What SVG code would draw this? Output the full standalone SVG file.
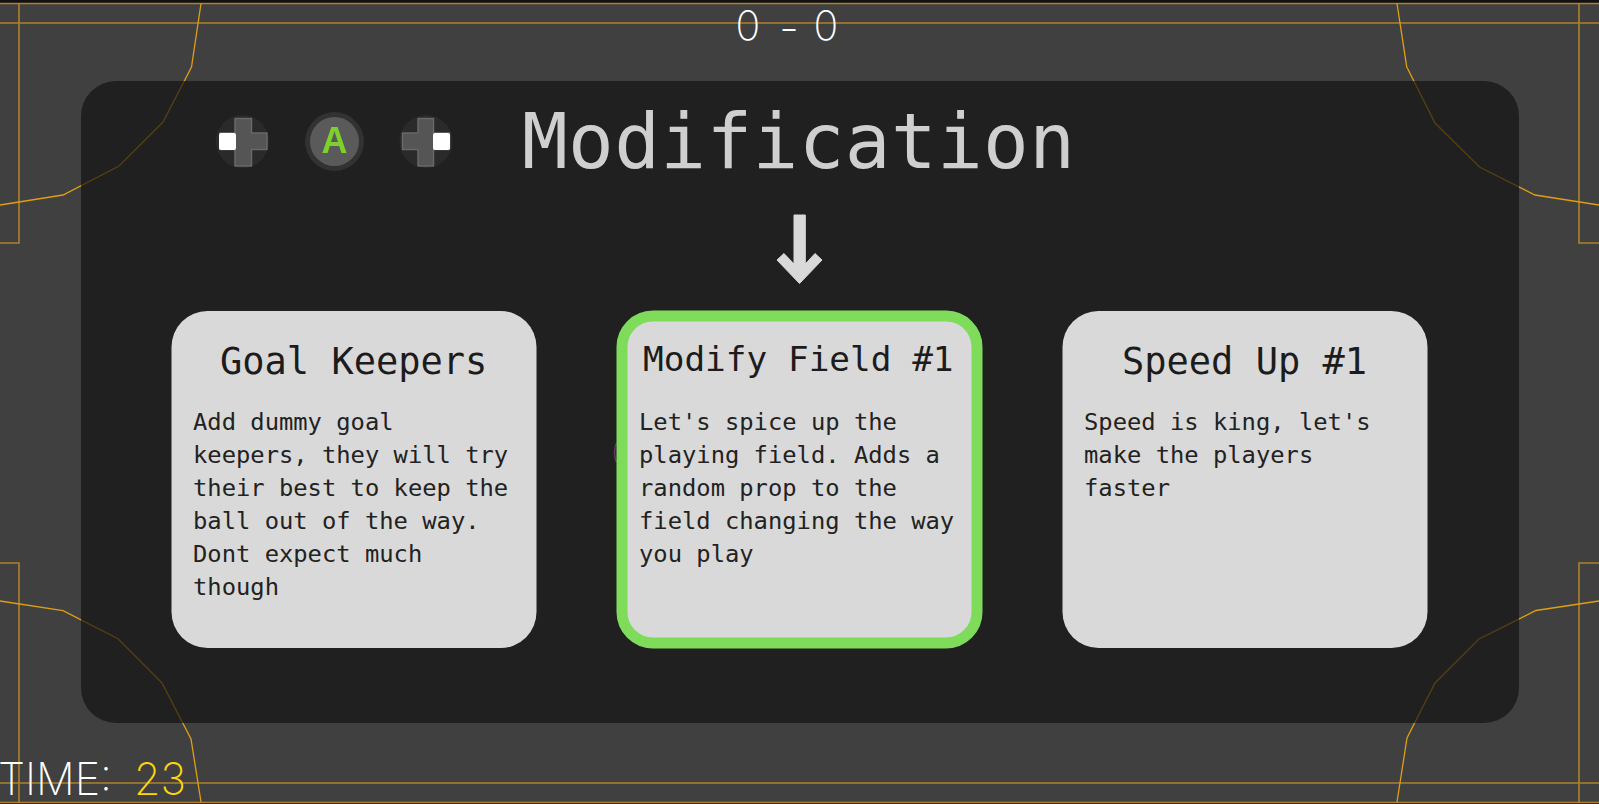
<svg xmlns="http://www.w3.org/2000/svg" width="1599" height="804" viewBox="0 0 1599 804">
<defs><filter id="soft" x="-10%" y="-10%" width="120%" height="120%"><feGaussianBlur stdDeviation="0.7"/></filter></defs>
<style>
.field{fill:none;stroke:#ad812a;stroke-width:1.6}
.curve{fill:none;stroke:#e09e12;stroke-width:1.3}
.card{fill:#d9d9d9}
.title{font-family:"DejaVu Sans Mono","Liberation Mono",monospace;font-size:37px;fill:#1c1c1c}
.mid{font-size:34.4px}
.body{font-family:"DejaVu Sans Mono","Liberation Mono",monospace;font-size:23.8px;fill:#222}
.hud{font-family:Inter,"Liberation Sans",sans-serif;fill:#fff;font-weight:200;font-size:45px}
.score{font-size:41px}
.dpad{fill:#555;stroke:#6a6a6a;stroke-width:1.5;stroke-linejoin:round}
.white{fill:#fff}
</style>
<rect width="1599" height="804" fill="#404040"/>
<rect width="1599" height="3" fill="#111"/>
<rect y="803" width="1599" height="1" fill="#111"/>
<g id="field-lines">
<path class="field" d="M0 3.5H1599M0 23H1599M0 783H1599M0 802.5H1599"/>
<path class="field" d="M0 243H19V3.5M0 563H19V802M1599 243H1579V3.5M1599 563H1579V802"/>
<path class="curve" d="M201 3.5L191.5 67L163 122L119 166L63 195L0 205"/>
<path class="curve" d="M0 601L63 610.7L118 638.7L162 683L191 739L201 802"/>
<path class="curve" d="M1397 3.5L1406.7 66.7L1435 123L1479.5 167L1535 195L1599 205"/>
<path class="curve" d="M1599 601L1536 610.5L1479 639L1435 683L1407 738L1397 802"/>
</g>
<rect id="panel" x="81" y="81" width="1438" height="642" rx="35" fill="#111" fill-opacity=".68"/>
<text class="hud score" x="735.500" y="39.800">0</text>
<text class="hud" x="779" y="43.500">-</text>
<text class="hud score" x="813.500" y="39.800">0</text>
<text class="hud" x="-2" y="795" textLength="114" lengthAdjust="spacingAndGlyphs">TIME:</text>
<text class="hud" x="134" y="795" textLength="52" lengthAdjust="spacingAndGlyphs" style="fill:#ffd60a">23</text>
<g id="control-left" filter="url(#soft)">
<circle cx="242.500" cy="141.500" r="26.500" fill="#2a2a2a"/>
<path class="dpad" d="M235 118.500h16.500v14.500h15.500v16.500h-15.500v16.500h-16.500v-16.500h-15v-16.500h15z"/>
<rect class="white" x="219" y="133" width="17" height="17" rx="2"/>
</g>
<g id="control-a" filter="url(#soft)">
<circle cx="334.500" cy="141.500" r="29.500" fill="#303030"/>
<circle cx="334.500" cy="141.500" r="24.500" fill="#5a5a5a"/>
<text x="334.500" y="152.700" text-anchor="middle" font-size="36" font-weight="700" fill="#7dd12c" style="font-family:'Liberation Sans',sans-serif">A</text>
</g>
<g id="control-right" filter="url(#soft)">
<circle cx="426" cy="141.500" r="26.500" fill="#2a2a2a"/>
<path class="dpad" d="M418 118.500h15.500v14.500h16v16.500h-16v16.500h-15.500v-16.500h-15.500v-16.500h15.500z"/>
<rect class="white" x="433" y="133" width="17" height="17" rx="2"/>
</g>
<text id="heading" x="522" y="168" font-size="76" fill="#cfcfcf" textLength="553" style="font-family:'DejaVu Sans Mono',monospace">Modification</text>
<path id="arrow" d="M794 215H805.300V264L815 253.500L822 260L799.500 283.500L777 260L784 253.500L794 264Z" fill="#d9d9d9" stroke="#d9d9d9" stroke-width="1" stroke-linejoin="round"/>
<path id="marker" d="M616.500 443C613.800 448 613.800 457 616.500 462" fill="none" stroke="#66376a" stroke-width="1.500"/>
<g id="card-goal-keepers">
<rect class="card" x="171.500" y="311" width="365" height="337" rx="36"/>
<text class="title" x="220" y="374">Goal Keepers</text>
<text class="body" x="193" y="430">Add dummy goal</text>
<text class="body" x="193" y="463">keepers, they will try</text>
<text class="body" x="193" y="496">their best to keep the</text>
<text class="body" x="193" y="529">ball out of the way.</text>
<text class="body" x="193" y="562">Dont expect much</text>
<text class="body" x="193" y="595">though</text>
</g>
<g id="card-modify-field">
<rect class="card" x="622" y="316" width="355" height="327" rx="31" stroke="#7fdc5a" stroke-width="11"/>
<text class="title mid" x="643" y="371">Modify Field #1</text>
<text class="body" x="639" y="430">Let's spice up the</text>
<text class="body" x="639" y="463">playing field. Adds a</text>
<text class="body" x="639" y="496">random prop to the</text>
<text class="body" x="639" y="529">field changing the way</text>
<text class="body" x="639" y="562">you play</text>
</g>
<g id="card-speed-up">
<rect class="card" x="1062.500" y="311" width="365" height="337" rx="36"/>
<text class="title" x="1122" y="374">Speed Up #1</text>
<text class="body" x="1084" y="430">Speed is king, let's</text>
<text class="body" x="1084" y="463">make the players</text>
<text class="body" x="1084" y="496">faster</text>
</g>
</svg>
